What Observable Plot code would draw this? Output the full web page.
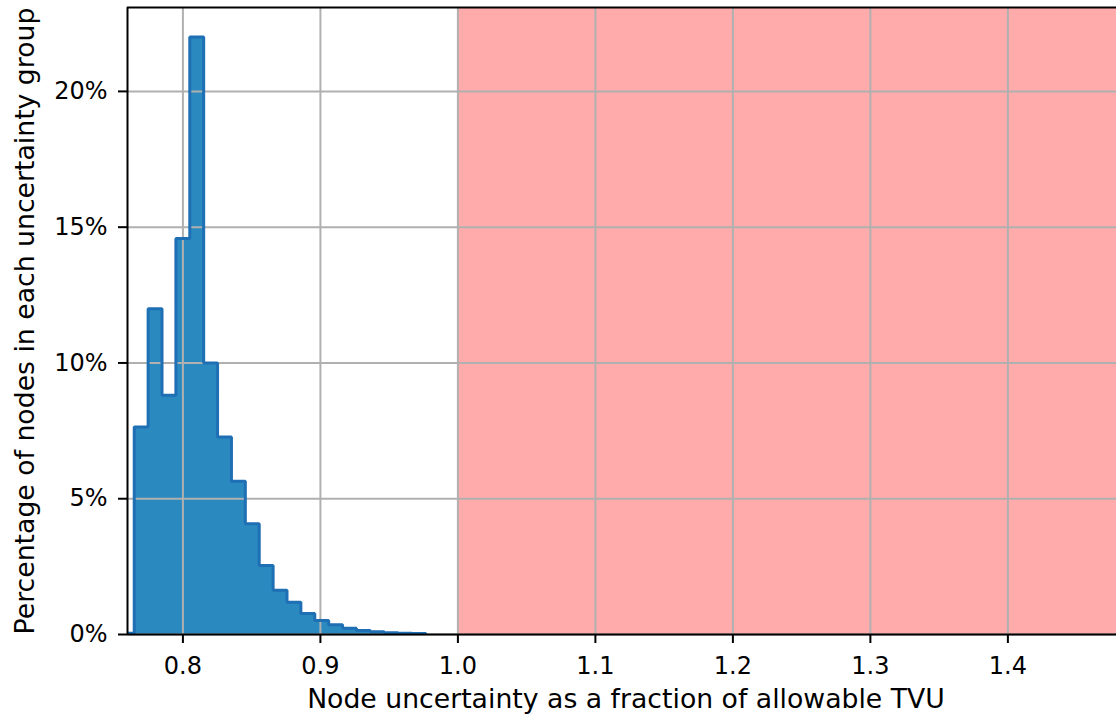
<!DOCTYPE html>
<html>
<head>
<meta charset="utf-8">
<script src="https://cdn.jsdelivr.net/npm/d3@7"></script>
<script src="https://cdn.jsdelivr.net/npm/@observablehq/plot@0.6"></script>
<style>
  html, body { margin: 0; padding: 0; background: white; overflow: hidden; }
</style>
</head>
<body>
<div id="chart"></div>
<script>
// Histogram bin edges (node uncertainty as a fraction of allowable TVU)
const binEdges = [0.7545, 0.7646, 0.7747, 0.7848, 0.7949, 0.8050, 0.8151, 0.8252, 0.8353,
  0.8454, 0.8555, 0.8656, 0.8757, 0.8858, 0.8959, 0.9060, 0.9161, 0.9262, 0.9363,
  0.9464, 0.9565, 0.9666, 0.9767];
// Percentage of nodes in each bin
const pctNodes = [0.05, 7.64, 12.0, 8.81, 14.58, 22.0, 10.0, 7.27, 5.64, 4.08, 2.54,
  1.63, 1.19, 0.77, 0.52, 0.36, 0.23, 0.15, 0.10, 0.06, 0.05, 0.04];
// Region exceeding allowable TVU
const exceedStart = [1.0];
const exceedEnd = [1.5];
// Axis ticks
const xTicks = [0.8, 0.9, 1.0, 1.1, 1.2, 1.3, 1.4];
const yTicks = [0, 5, 10, 15, 20];
const xDomain = [0.7597, 1.479];
const yDomain = [0, 23.09];
const xLabel = "Node uncertainty as a fraction of allowable TVU";
const yLabel = "Percentage of nodes in each uncertainty group";

// step outline points built from the bins
const outline = [{x: binEdges[0], y: 0}];
pctNodes.forEach((p, i) => {
  outline.push({x: binEdges[i], y: p});
  outline.push({x: binEdges[i + 1], y: p});
});
outline.push({x: binEdges[binEdges.length - 1], y: 0});

const spans = exceedStart.map((s, i) => ({x1: s, x2: exceedEnd[i]}));

const chart = Plot.plot({
  width: 1116,
  height: 717,
  marginTop: 7,
  marginLeft: 127,
  marginRight: 0,
  marginBottom: 83,
  style: {fontFamily: "DejaVu Sans", fontSize: "24px", color: "black", background: "white", overflow: "hidden"},
  x: {domain: xDomain},
  y: {domain: yDomain},
  marks: [
    Plot.rect(spans, {x1: "x1", x2: "x2", fill: "#ff0000", fillOpacity: 0.33, clip: true}),
    Plot.areaY(outline, {x: "x", y1: 0, y2: "y", fill: "#2a8abf", clip: true}),
    Plot.ruleX(xTicks, {stroke: "#b0b0b0", strokeWidth: 2}),
    Plot.ruleY(yTicks, {stroke: "#b0b0b0", strokeWidth: 2}),
    Plot.line(outline, {x: "x", y: "y", stroke: "#1f6fb4", strokeWidth: 3, strokeLinejoin: "miter", clip: true}),
    Plot.ruleX([xDomain[0]], {stroke: "black", strokeWidth: 2}),
    Plot.ruleY([yDomain[0]], {stroke: "black", strokeWidth: 2}),
    Plot.ruleY([yDomain[1]], {stroke: "black", strokeWidth: 2}),
    Plot.axisX({ticks: xTicks, tickFormat: d => d.toFixed(1), tickSize: 9, tickPadding: 13, strokeWidth: 2, fontSize: 24, fill: "black", label: null}),
    Plot.axisY({ticks: yTicks, tickFormat: d => d + "%", tickSize: 9, tickPadding: 11, strokeWidth: 2, fontSize: 24, fill: "black", label: null}),
    Plot.text([xLabel], {frameAnchor: "bottom", textAnchor: "middle", lineAnchor: "middle", dx: 4, dy: 65, fontSize: 26.7, fill: "black"}),
    Plot.text([yLabel], {frameAnchor: "left", textAnchor: "middle", lineAnchor: "middle", rotate: -90, dx: -102, fontSize: 26.7, fill: "black"})
  ]
});
document.getElementById("chart").appendChild(chart);
</script>
</body>
</html>
